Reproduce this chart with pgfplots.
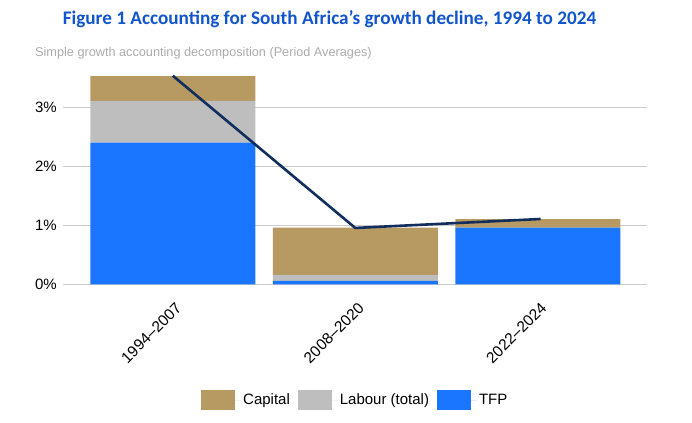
\documentclass[border=0pt]{standalone}
\usepackage{fontspec}
\setmainfont{Liberation Sans}
\newfontfamily\titlefont{Carlito}
\usepackage{pgfplots}
\pgfplotsset{compat=1.18}

\definecolor{capital}{HTML}{B79962}
\definecolor{labour}{HTML}{BEBEBE}
\definecolor{tfp}{HTML}{1A75FF}
\definecolor{gdpline}{HTML}{112E5F}
\definecolor{titleblue}{HTML}{1155CC}
\definecolor{subgray}{HTML}{ABABAB}
\definecolor{gridgray}{HTML}{CCCCCC}

\pgfplotsset{
  base/.style={
    scale only axis,
    width=584bp, height=212.4bp,
    at={(63.3bp,138.7bp)}, anchor=south west,
    xmin=-0.6, xmax=2.6, ymin=0, ymax=3.6,
    axis line style={draw=none},
    major tick length=0pt,
  }
}

\begin{document}
\begin{tikzpicture}
\path (0,0) rectangle (692bp,423bp);

\node[anchor=base, text=titleblue, font=\titlefont\bfseries\fontsize{19.2bp}{22bp}\selectfont]
  at (329.5bp,398bp) {Figure 1 Accounting for South Africa’s growth decline, 1994 to 2024};
\node[anchor=base west, inner sep=0pt, text=subgray, font=\fontsize{12.7bp}{15bp}\selectfont]
  at (35bp,366bp) {Simple growth accounting decomposition (Period Averages)};

\begin{axis}[
  base,
  ybar stacked,
  bar width=165bp,
  ymajorgrids,
  grid style={gridgray, line width=0.8bp},
  ytick={0,1,2,3},
  yticklabels={0\%,1\%,2\%,3\%},
  xtick={0,1,2},
  xticklabels={1994–2007,2008–2020,2022–2024},
  tick label style={font=\fontsize{15bp}{18bp}\selectfont},
  yticklabel style={xshift=-3bp},
  x tick label style={xshift=2bp, yshift=-17bp, rotate=45, anchor=north east, inner sep=0pt,
    font=\fontsize{15.5bp}{18bp}\selectfont},
  reverse legend,
  legend columns=3,
  legend style={
    at={(axis description cs:0.5,-0.545)}, anchor=center,
    draw=none, font=\fontsize{15bp}{18bp}\selectfont,
    /tikz/every even column/.append style={column sep=6bp},
  },
  legend image code/.code={\fill[#1] (0bp,-10bp) rectangle (34bp,10bp);
    \path (0bp,0bp) -- (40bp,0bp);},
]
\addplot[fill=tfp, draw=none] coordinates {(0,2.40) (1,0.06) (2,0.96)};
\addplot[fill=labour, draw=none] coordinates {(0,0.71) (1,0.10) (2,0.0)};
\addplot[fill=capital, draw=none] coordinates {(0,0.42) (1,0.80) (2,0.145)};
\legend{TFP,Labour (total),Capital}
\end{axis}

\begin{axis}[base, xtick=\empty, ytick=\empty]
\addplot[gdpline, line width=2.6bp, sharp plot] coordinates {(0,3.535) (1,0.955) (2.015,1.107)};
\end{axis}
\end{tikzpicture}
\end{document}
